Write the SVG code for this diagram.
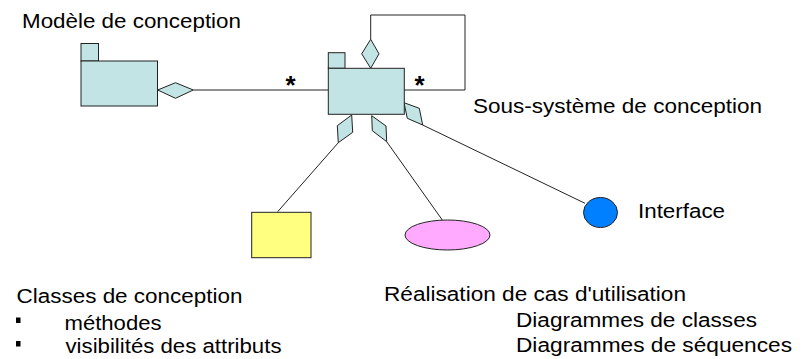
<svg xmlns="http://www.w3.org/2000/svg" width="809" height="359" viewBox="0 0 809 359">
<style>
.pk{fill:#c2e4e4;stroke:#222;stroke-width:1}
.ln{fill:none;stroke:#222;stroke-width:1}
.t{font-family:"Liberation Sans",Arial,sans-serif;font-size:20px;fill:#000}
.st{font-family:"Liberation Sans",Arial,sans-serif;font-size:26px;font-weight:bold;fill:#000}
</style>
<rect width="809" height="359" fill="#fff"/>
<g id="connectors">
<line class="ln" x1="193.3" y1="90" x2="328.3" y2="90"/>
<polyline class="ln" points="370.7,39.3 370.7,15 465,15 465,90 404.3,90"/>
<line class="ln" x1="338.3" y1="142.7" x2="277.7" y2="211.7"/>
<line class="ln" x1="386.7" y1="141.7" x2="442.3" y2="220"/>
<line class="ln" x1="422.7" y1="125" x2="585" y2="203.3"/>
<polygon class="pk" points="157.7,90 175.5,82.7 193.3,90 175.5,98.3"/>
<polygon class="pk" points="370.7,68.3 379,53.8 370.7,39.3 361.7,53.8"/>
<polygon class="pk" points="351.7,115 352.7,132.3 338.3,142.7 337.3,125.7"/>
<polygon class="pk" points="371.7,115.7 386,126 386.7,141.7 372.3,130.7"/>
<polygon class="pk" points="404,102.7 419.3,108.3 422.7,125 407.3,118.3"/>
<text class="st" x="285.5" y="93.6">*</text>
<text class="st" x="414.5" y="93.6">*</text>
</g>
<g id="modele">
<rect class="pk" x="81" y="43.5" width="17.5" height="17.5"/>
<rect class="pk" x="81" y="61" width="76.5" height="45"/>
<text class="t" x="22" y="27.5" textLength="219" lengthAdjust="spacingAndGlyphs">Modèle de conception</text>
</g>
<g id="sous-systeme">
<rect class="pk" x="328.3" y="52.7" width="16.7" height="15.6"/>
<rect class="pk" x="328.3" y="68.3" width="76" height="46"/>
<text class="t" x="473" y="113" textLength="289" lengthAdjust="spacingAndGlyphs">Sous-système de conception</text>
</g>
<g id="classe">
<rect x="251.7" y="212.3" width="59.3" height="45.4" fill="#ffff80" stroke="#222"/>
<text class="t" x="16.5" y="303" textLength="226" lengthAdjust="spacingAndGlyphs">Classes de conception</text>
<rect x="16" y="317.5" width="4.5" height="5.5" fill="#000"/>
<text class="t" x="64.5" y="330" textLength="97" lengthAdjust="spacingAndGlyphs">méthodes</text>
<rect x="16" y="341" width="4.5" height="5.5" fill="#000"/>
<text class="t" x="65.5" y="353" textLength="216" lengthAdjust="spacingAndGlyphs">visibilités des attributs</text>
</g>
<g id="realisation">
<ellipse cx="447.5" cy="235" rx="42.5" ry="15" fill="#ffaaff" stroke="#222"/>
<text class="t" x="384" y="300.7" textLength="302" lengthAdjust="spacingAndGlyphs">Réalisation de cas d'utilisation</text>
<text class="t" x="516" y="326.5" textLength="241" lengthAdjust="spacingAndGlyphs">Diagrammes de classes</text>
<text class="t" x="516" y="351.7" textLength="276" lengthAdjust="spacingAndGlyphs">Diagrammes de séquences</text>
</g>
<g id="interface">
<ellipse cx="600.5" cy="212.5" rx="17" ry="15" fill="#0080ff" stroke="#222"/>
<text class="t" x="638" y="217.5" textLength="87" lengthAdjust="spacingAndGlyphs">Interface</text>
</g>
</svg>
